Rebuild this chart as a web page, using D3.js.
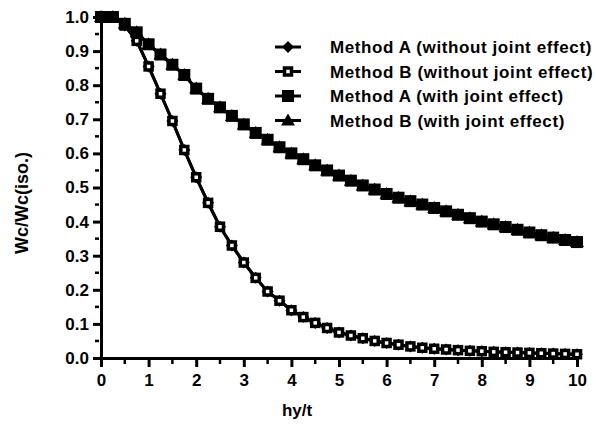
<!DOCTYPE html>
<html><head><meta charset="utf-8">
<script src="https://cdn.jsdelivr.net/npm/d3@7"></script>
<style>body{margin:0;background:#fff}svg{display:block}text{font-family:"Liberation Sans",Arial,sans-serif;font-weight:bold;fill:#000}</style>
</head><body>
<script>
const xValues = [0,0.25,0.5,0.75,1,1.25,1.5,1.75,2,2.25,2.5,2.75,3,3.25,3.5,3.75,4,4.25,4.5,4.75,5,5.25,5.5,5.75,6,6.25,6.5,6.75,7,7.25,7.5,7.75,8,8.25,8.5,8.75,9,9.25,9.5,9.75,10];
const methodAWithout = [1.0,1.0,0.975,0.93,0.855,0.775,0.695,0.61,0.53,0.455,0.385,0.33,0.28,0.235,0.195,0.168,0.14,0.12,0.103,0.088,0.075,0.066,0.058,0.05,0.044,0.039,0.034,0.03,0.027,0.025,0.023,0.021,0.02,0.018,0.017,0.016,0.015,0.014,0.013,0.012,0.011];
const methodBWithout = [1.0,1.0,0.975,0.93,0.855,0.775,0.695,0.61,0.53,0.455,0.385,0.33,0.28,0.235,0.195,0.168,0.14,0.12,0.103,0.088,0.075,0.066,0.058,0.05,0.044,0.039,0.034,0.03,0.027,0.025,0.023,0.021,0.02,0.018,0.017,0.016,0.015,0.014,0.013,0.012,0.011];
const methodAWith = [1.0,1.0,0.98,0.955,0.92,0.89,0.86,0.83,0.79,0.76,0.735,0.71,0.685,0.66,0.64,0.618,0.6,0.583,0.565,0.55,0.535,0.52,0.506,0.494,0.481,0.47,0.46,0.45,0.44,0.43,0.42,0.41,0.4,0.392,0.384,0.376,0.368,0.36,0.353,0.346,0.34];
const methodBWith = [1.0,1.0,0.98,0.955,0.92,0.89,0.86,0.83,0.79,0.76,0.735,0.71,0.685,0.66,0.64,0.618,0.6,0.583,0.565,0.55,0.535,0.52,0.506,0.494,0.481,0.47,0.46,0.45,0.44,0.43,0.42,0.41,0.4,0.392,0.384,0.376,0.368,0.36,0.353,0.346,0.34];
const seriesNames = ["Method A (without joint effect)","Method B (without joint effect)","Method A (with joint effect)","Method B (with joint effect)"];
const seriesMarkers = ["diamond","openSquare","square","triangle"];
const xTicks = [0,1,2,3,4,5,6,7,8,9,10];
const yTicks = [0,0.1,0.2,0.3,0.4,0.5,0.6,0.7,0.8,0.9,1.0];
const xTitle = "hy/t";
const yTitle = "Wc/Wc(iso.)";

const W = 596, H = 427;
const FONT = '"Liberation Sans",Arial,sans-serif';
const svg = d3.select("body").append("svg").attr("width", W).attr("height", H);
const x = d3.scaleLinear().domain([0, 10]).range([101, 577]);
const y = d3.scaleLinear().domain([0, 1]).range([358, 17]);

// minor ticks
const xMinor = d3.range(0.5, 10, 1);
const yMinor = d3.range(0.05, 1.0, 0.1);
svg.append("g").selectAll("line").data(xMinor).join("line")
  .attr("x1", d => x(d)).attr("x2", d => x(d)).attr("y1", 358).attr("y2", 364)
  .attr("stroke", "#000").attr("stroke-width", 2.5);
svg.append("g").selectAll("line").data(yMinor).join("line")
  .attr("x1", 95).attr("x2", 99).attr("y1", d => y(d)).attr("y2", d => y(d))
  .attr("stroke", "#000").attr("stroke-width", 2.5);

const xAxis = svg.append("g").attr("transform", "translate(0,358)")
  .call(d3.axisBottom(x).tickValues(xTicks).tickFormat(d3.format("d")).tickSizeInner(9).tickSizeOuter(0).tickPadding(7));
const yAxis = svg.append("g").attr("transform", "translate(101,0)")
  .call(d3.axisLeft(y).tickValues(yTicks).tickFormat(d3.format(".1f")).tickSizeInner(8).tickSizeOuter(0).tickPadding(4));
[xAxis, yAxis].forEach(g => {
  g.select(".domain").attr("stroke", "#000").attr("stroke-width", 3);
  g.selectAll(".tick line").attr("stroke", "#000").attr("stroke-width", 3);
  g.selectAll("text").style("font-size", "17px").style("font-family", FONT).style("font-weight", "bold");
});
xAxis.selectAll("text").attr("dy", "0.71em");

svg.append("text").attr("x", 297).attr("y", 416).attr("text-anchor", "middle").style("font-size", "17px").text(xTitle);
svg.append("text").attr("transform", `translate(28,203) rotate(-90)`).attr("text-anchor", "middle").style("font-size", "18px").text(yTitle);

function drawMarker(g, type, cx, cy) {
  if (type === "diamond") {
    g.append("path").attr("d", `M${cx},${cy-6}L${cx+6},${cy}L${cx},${cy+6}L${cx-6},${cy}Z`).attr("fill", "#000");
  } else if (type === "openSquare") {
    g.append("rect").attr("x", cx-3.5).attr("y", cy-3.5).attr("width", 7).attr("height", 7).attr("fill", "#fff").attr("stroke", "#000").attr("stroke-width", 3.5);
  } else if (type === "square") {
    g.append("rect").attr("x", cx-6).attr("y", cy-6).attr("width", 12).attr("height", 12).attr("fill", "#000");
  } else {
    g.append("path").attr("d", `M${cx},${cy-7}L${cx+7},${cy+5}L${cx-7},${cy+5}Z`).attr("fill", "#000");
  }
}

const allSeries = [methodAWithout, methodBWithout, methodBWith, methodAWith];
const allMarkers = ["diamond", "openSquare", "triangle", "square"];
const line = d3.line().x((d, i) => x(xValues[i])).y(d => y(d));
allSeries.forEach((vals, si) => {
  const g = svg.append("g");
  g.append("path").attr("d", line(vals)).attr("fill", "none").attr("stroke", "#000").attr("stroke-width", 3);
  vals.forEach((v, i) => drawMarker(g, allMarkers[si], x(xValues[i]), y(v)));
});

// legend
const legend = svg.append("g");
seriesNames.forEach((name, i) => {
  const ly = 47 + i * 24.5;
  legend.append("line").attr("x1", 275).attr("x2", 301).attr("y1", ly).attr("y2", ly).attr("stroke", "#000").attr("stroke-width", 3);
  drawMarker(legend, seriesMarkers[i], 288, ly);
  legend.append("text").attr("x", 330).attr("y", ly + 6).style("font-size", "17px").style("letter-spacing", "0.6px").text(name);
});
</script>
</body></html>
